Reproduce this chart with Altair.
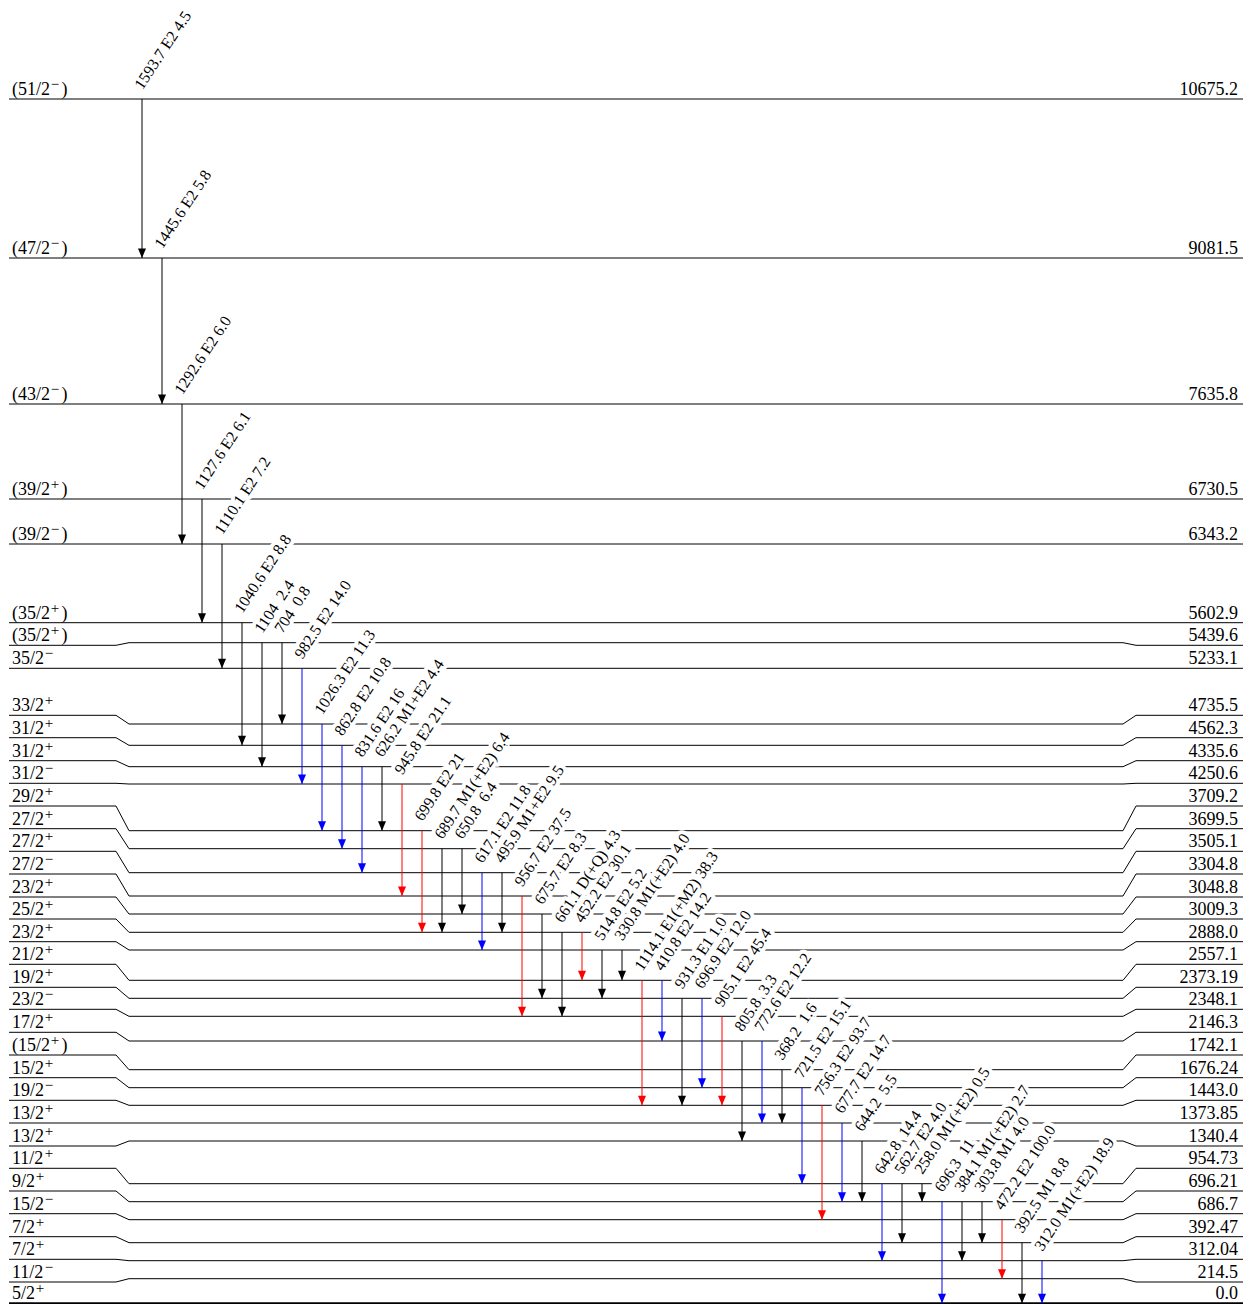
import altair as alt
import pandas as pd

# ---------------- levels ----------------
level_energy = ["10675.2", "9081.5", "7635.8", "6730.5", "6343.2", "5602.9", "5439.6",
                "5233.1", "4735.5", "4562.3", "4335.6", "4250.6", "3709.2", "3699.5",
                "3505.1", "3304.8", "3048.8", "3009.3", "2888.0", "2557.1", "2373.19",
                "2348.1", "2146.3", "1742.1", "1676.24", "1443.0", "1373.85", "1340.4",
                "954.73", "696.21", "686.7", "392.47", "312.04", "214.5", "0.0"]
level_spin = ["(51/2-)", "(47/2-)", "(43/2-)", "(39/2+)", "(39/2-)", "(35/2+)", "(35/2+)",
              "35/2-", "33/2+", "31/2+", "31/2+", "31/2-", "29/2+", "27/2+", "27/2+",
              "27/2-", "23/2+", "25/2+", "23/2+", "21/2+", "19/2+", "23/2-", "17/2+",
              "(15/2+)", "15/2+", "19/2-", "13/2+", "13/2+", "11/2+", "9/2+", "15/2-",
              "7/2+", "7/2+", "11/2-", "5/2+"]
# drawing height of each level line (diagram units above the ground line)
level_main_height = [1204.3, 1045.3, 899.3, 804.3, 759.3, 680.6, 660.6, 635.0, 579.3,
                     558.0, 536.6, 519.3, 472.6, 454.6, 430.6, 407.3, 389.3, 371.0,
                     353.3, 323.0, 305.0, 287.0, 262.3, 233.6, 215.6, 198.0, 180.3,
                     162.3, 119.6, 101.6, 83.6, 60.6, 42.6, 24.6, 0.0]
# drawing height of the label rows at both ends
level_label_height = [1204.3, 1045.3, 899.3, 804.3, 759.3, 680.6, 658.0, 635.0, 588.0,
                      565.6, 542.6, 520.0, 497.3, 474.6, 452.0, 429.3, 406.3, 384.3,
                      361.6, 339.0, 316.0, 294.0, 271.0, 248.3, 225.6, 203.0, 180.3,
                      157.3, 135.0, 112.3, 89.6, 66.6, 44.0, 21.3, 0.0]

# ---------------- transitions ----------------
gamma_energy = ["1593.7", "1445.6", "1292.6", "1127.6", "1110.1", "1040.6", "1104", "704",
                "982.5", "1026.3", "862.8", "831.6", "626.2", "945.8", "699.8", "689.7",
                "650.8", "617.1", "495.9", "956.7", "675.7", "661.1", "452.2", "514.8",
                "330.8", "1114.1", "410.8", "931.3", "696.9", "905.1", "805.8", "772.6",
                "368.2", "721.5", "756.3", "677.7", "644.2", "642.8", "562.7", "258.0",
                "696.3", "384.1", "303.8", "472.2", "392.5", "312.0"]
gamma_mult = ["E2", "E2", "E2", "E2", "E2", "E2", "", "", "E2", "E2", "E2", "E2", "M1+E2",
              "E2", "E2", "M1(+E2)", "", "E2", "M1+E2", "E2", "E2", "D(+Q)", "E2", "E2",
              "M1(+E2)", "E1(+M2)", "E2", "E1", "E2", "E2", "", "E2", "", "E2", "E2", "E2",
              "", "", "E2", "M1(+E2)", "", "M1(+E2)", "M1", "E2", "M1", "M1(+E2)"]
gamma_intensity = ["4.5", "5.8", "6.0", "6.1", "7.2", "8.8", "2.4", "0.8", "14.0", "11.3",
                   "10.8", "16", "4.4", "21.1", "21", "6.4", "6.4", "11.8", "9.5", "37.5",
                   "8.3", "4.3", "30.1", "5.2", "4.0", "38.3", "14.2", "1.0", "12.0", "45.4",
                   "3.3", "12.2", "1.6", "15.1", "93.7", "14.7", "5.5", "14.4", "4.0", "0.5",
                   "11", "2.7", "4.0", "100.0", "8.8", "18.9"]
gamma_from = ["10675.2", "9081.5", "7635.8", "6730.5", "6343.2", "5602.9", "5439.6",
              "5439.6", "5233.1", "4735.5", "4562.3", "4335.6", "4335.6", "4250.6",
              "3709.2", "3699.5", "3699.5", "3505.1", "3505.1", "3304.8", "3048.8",
              "3009.3", "3009.3", "2888.0", "2888.0", "2557.1", "2557.1", "2373.19",
              "2373.19", "2348.1", "2146.3", "2146.3", "1742.1", "1676.24", "1443.0",
              "1373.85", "1340.4", "954.73", "954.73", "954.73", "696.21", "696.21",
              "696.21", "686.7", "392.47", "312.04"]
gamma_to = ["9081.5", "7635.8", "6343.2", "5602.9", "5233.1", "4562.3", "4335.6", "4735.5",
            "4250.6", "3709.2", "3699.5", "3505.1", "3709.2", "3304.8", "3009.3", "3009.3",
            "3048.8", "2888.0", "3009.3", "2348.1", "2373.19", "2348.1", "2557.1",
            "2373.19", "2557.1", "1443.0", "2146.3", "1443.0", "1676.24", "1443.0",
            "1340.4", "1373.85", "1373.85", "954.73", "686.7", "696.21", "696.21",
            "312.04", "392.47", "696.21", "0.0", "312.04", "392.47", "214.5", "0.0", "0.0"]
gamma_color = ["k", "k", "k", "k", "k", "k", "k", "k", "b", "b", "b", "b", "k", "r", "r",
               "k", "k", "b", "k", "r", "k", "k", "r", "k", "k", "r", "b", "k", "b", "r",
               "k", "b", "k", "b", "r", "b", "k", "b", "k", "k", "b", "k", "k", "r", "k", "b"]

COLORS = {"k": "#000000", "b": "#0000ff", "r": "#ff0000"}
SERIF = "Liberation Serif"
PX = 1 / 20.0  # one pixel in transition-column units

main_of = dict(zip(level_energy, level_main_height))

# level polylines (x in transition-column units)
X_LEFT, X_KL1, X_KL2, X_KR1, X_KR2, X_RIGHT = -6.65, -1.3, -0.65, 49.05, 49.7, 55.05
rows = []
for e, m, l in zip(level_energy, level_main_height, level_label_height):
    pts = [(X_LEFT, l), (X_KL1, l), (X_KL2, m), (X_KR1, m), (X_KR2, l), (X_RIGHT, l)]
    for k, (x, y) in enumerate(pts):
        rows.append({"level": e, "k": k, "x": x, "y": y, "w": 2 if e == "0.0" else 1})
lev_pts = pd.DataFrame(rows)

# spin labels split into base text, raised parity sign and closing parenthesis
CHAR_W = {"(": 6.0, ")": 6.0, "/": 5.0}
X0 = -6.5
base_rows, sign_rows, close_rows = [], [], []
for s, yl in zip(level_spin, level_label_height):
    paren = s.startswith("(")
    core = s.strip("()")
    base = ("(" if paren else "") + core[:-1]
    sign = "+" if core[-1] == "+" else "\u2212"
    w = sum(CHAR_W.get(c, 9.0) for c in base)
    base_rows.append({"t": base, "x": X0, "y": yl})
    sign_rows.append({"t": sign, "x": X0 + (w + 0.8) * PX, "y": yl})
    if paren:
        close_rows.append({"t": ")", "x": X0 + (w + 11.5) * PX, "y": yl})
spin_base = pd.DataFrame(base_rows)
spin_sign = pd.DataFrame(sign_rows)
spin_close = pd.DataFrame(close_rows)

lev = pd.DataFrame({"energy": level_energy, "ylab": level_label_height, "xr": 54.8})

trans = pd.DataFrame({
    "i": list(range(len(gamma_energy))),
    "y1": [main_of[f] for f in gamma_from],
    "y2": [main_of[t] for t in gamma_to],
    "color": [COLORS[c] for c in gamma_color],
    "label": [(f"{e}\u00a0{m}\u00a0{s}" if m else f"{e}\u00a0\u00a0{s}")
              for e, m, s in zip(gamma_energy, gamma_mult, gamma_intensity)],
})

xs = alt.Scale(domain=[-6.7, 55.1], nice=False, zero=False)
ys = alt.Scale(domain=[-0.7, 1295.3], nice=False, zero=False)

lines = alt.Chart(lev_pts).mark_line(color="black", strokeCap="butt").encode(
    x=alt.X("x:Q", scale=xs, axis=None),
    y=alt.Y("y:Q", scale=ys, axis=None),
    detail="level:N",
    order="k:Q",
    size=alt.Size("w:Q", scale=None),
)


def spin_layer(df, size, dy):
    return alt.Chart(df).mark_text(align="left", baseline="alphabetic", dy=dy,
                                   font=SERIF, fontSize=size, color="black").encode(
        x=alt.X("x:Q", scale=xs), y=alt.Y("y:Q", scale=ys), text="t:N")


left_base = spin_layer(spin_base, 18, -4)
left_sign = spin_layer(spin_sign, 15, -10)
left_close = spin_layer(spin_close, 18, -4)

right_txt = alt.Chart(lev).mark_text(align="right", baseline="alphabetic", dy=-4,
                                     font=SERIF, fontSize=18, color="black").encode(
    x=alt.X("xr:Q", scale=xs), y=alt.Y("ylab:Q", scale=ys), text="energy:N")

label_props = dict(align="left", baseline="alphabetic", angle=303.4, dx=7.4, dy=-4.4,
                   font=SERIF, fontSize=16)

halo = alt.Chart(trans).mark_text(color="white", stroke="white", strokeWidth=8,
                                  strokeJoin="round", **label_props).encode(
    x=alt.X("i:Q", scale=xs), y=alt.Y("y1:Q", scale=ys), text="label:N")

labels = alt.Chart(trans).mark_text(color="black", **label_props).encode(
    x=alt.X("i:Q", scale=xs), y=alt.Y("y1:Q", scale=ys), text="label:N")

rules = alt.Chart(trans).mark_rule(strokeWidth=1).encode(
    x=alt.X("i:Q", scale=xs), y=alt.Y("y1:Q", scale=ys), y2="y2:Q",
    color=alt.Color("color:N", scale=None))

arrows = alt.Chart(trans).mark_point(shape="M-0.8,-1.9L0.8,-1.9L0,0Z", filled=True,
                                     size=100, opacity=1, strokeWidth=0).encode(
    x=alt.X("i:Q", scale=xs), y=alt.Y("y2:Q", scale=ys),
    color=alt.Color("color:N", scale=None))

chart = alt.layer(lines, halo, left_base, left_sign, left_close, right_txt, labels,
                  rules, arrows).properties(
    width=1236, height=1296, padding=0,
    autosize=alt.AutoSizeParams(type="none"),
).configure_view(strokeWidth=0)

chart.save("out.html", embed_options={"renderer": "svg", "actions": False})
